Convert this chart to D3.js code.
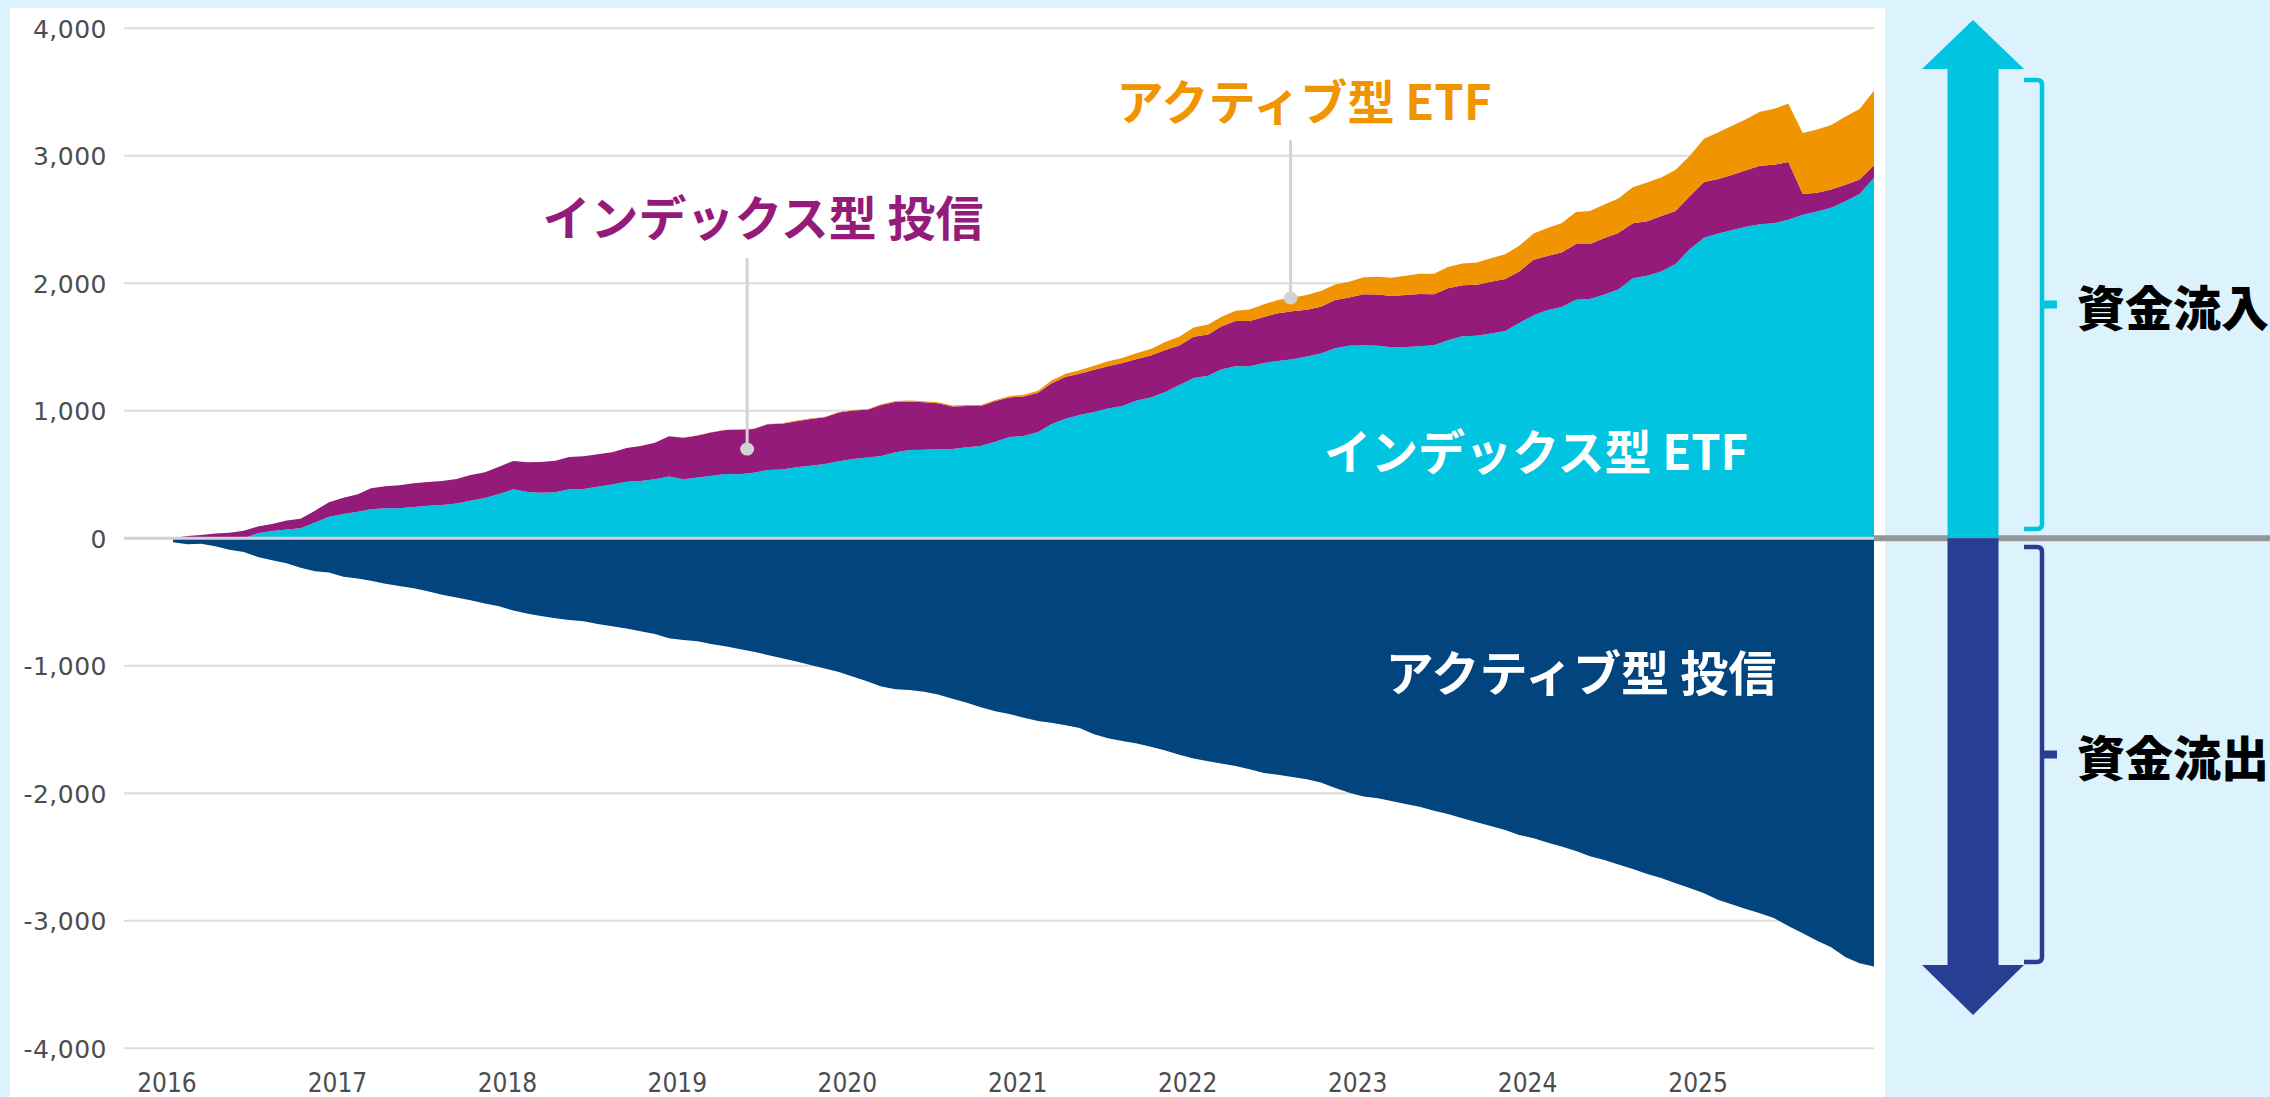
<!DOCTYPE html>
<html>
<head>
<meta charset="utf-8">
<script src="https://cdn.jsdelivr.net/npm/d3@7"></script>
<style>
html, body { margin: 0; padding: 0; background: #dcf3fd; }
#main { width: 2270px; height: 1097px; }
svg { display: block; }
</style>
</head>
<body>
<div id="main"></div>
<script>
// year labels on the x axis and y ticks
const years = [2016, 2017, 2018, 2019, 2020, 2021, 2022, 2023, 2024, 2025];
const yTicks = [-4000, -3000, -2000, -1000, 0, 1000, 2000, 3000, 4000];

// cumulative net flows, monthly Jan 2016 .. Jan 2026
const indexETF = [
  0, 0, 0, 0, 0, 2, 39, 57, 70, 78,
  123, 170, 191, 209, 227, 235, 235, 246, 256, 261,
  272, 295, 316, 348, 384, 363, 358, 361, 384, 387,
  405, 421, 444, 450, 463, 484, 463, 476, 489, 505,
  502, 515, 536, 539, 557, 570, 583, 604, 622, 633,
  646, 675, 693, 695, 698, 701, 714, 724, 758,
  794, 802, 834, 894, 937, 967, 991, 1018, 1037, 1080,
  1105, 1148, 1202, 1258, 1275, 1323, 1350, 1350, 1375, 1391,
  1404, 1426, 1450, 1491, 1510, 1515, 1510, 1499, 1501, 1507,
  1515, 1553, 1585, 1588, 1607, 1626, 1688, 1750, 1790, 1815,
  1871, 1877, 1912, 1952, 2039, 2060, 2093, 2152, 2268, 2358,
  2390, 2417, 2444, 2463, 2471, 2498, 2538, 2563, 2592, 2644,
  2700, 2827
];
const indexFund = [
  3, 18, 26, 37, 44, 58, 53, 55, 69, 76,
  94, 112, 128, 136, 165, 173, 181, 185, 186, 189,
  193, 202, 202, 214, 223, 233, 241, 248, 254, 256,
  254, 254, 264, 274, 287, 316, 325, 330, 340, 344,
  350, 342, 358, 359, 362, 365, 366, 382, 380, 375,
  399, 396, 380, 373, 362, 332, 324, 314, 318,
  311, 311, 308, 321, 330, 324, 330, 332, 338, 327,
  329, 329, 310, 322, 324, 338, 354, 354, 361, 375,
  376, 367, 367, 378, 378, 400, 402, 402, 408, 410,
  400, 408, 400, 400, 405, 408, 405, 435, 427, 426,
  438, 432, 443, 443, 432, 427, 435, 416, 414, 437,
  429, 432, 443, 459, 459, 454, 163, 148, 144, 129,
  114, 98
];
const activeETF = [
  0, 0, 0, 0, 0, 0, 0, 0, 0, 0,
  0, 0, 0, 0, 0, 0, 0, 0, 0, 0,
  0, 0, 0, 0, 0, 0, 0, 0, 0, 0,
  0, 0, 0, 0, 0, 0, 2, 2, 2, 3,
  3, 3, 3, 4, 4, 4, 5, 5, 5, 6,
  6, 6, 7, 7, 7, 8, 8, 8, 9,
  10, 13, 16, 20, 24, 28, 32, 38, 40, 46,
  51, 62, 68, 73, 78, 75, 81, 90, 100, 103,
  108, 116, 122, 121, 124, 132, 140, 143, 151, 157,
  159, 167, 170, 175, 184, 194, 202, 205, 219, 230,
  251, 259, 264, 270, 283, 303, 302, 322, 316, 338,
  365, 384, 400, 424, 440, 456, 478, 495, 505, 535,
  554, 586
];
const activeFund = [
  -30, -47, -42, -63, -89, -107, -146, -173, -196, -230,
  -259, -269, -301, -316, -332, -356, -374, -392, -416, -442,
  -465, -486, -512, -533, -567, -591, -609, -627, -641, -651,
  -672, -690, -708, -729, -750, -784, -797, -808, -829, -847,
  -868, -889, -915, -941, -967, -993, -1022, -1048, -1085, -1124,
  -1163, -1184, -1190, -1203, -1226, -1258, -1289, -1325, -1357,
  -1378, -1407, -1433, -1446, -1467, -1488, -1537, -1569, -1590, -1610,
  -1634, -1665, -1697, -1728, -1749, -1767, -1786, -1812, -1841, -1854,
  -1872, -1890, -1916, -1958, -1995, -2026, -2039, -2060, -2084, -2105,
  -2136, -2162, -2196, -2227, -2256, -2288, -2327, -2353, -2387, -2418,
  -2452, -2494, -2523, -2559, -2593, -2633, -2664, -2706, -2742, -2784,
  -2837, -2871, -2907, -2941, -2980, -3041, -3098, -3156, -3208, -3286,
  -3333, -3359
];

const months = d3.timeMonth.range(new Date(2016, 0, 1), new Date(2026, 1, 1));

function createChart() {
    d3.select("#main svg").remove();

    const W = 2270, H = 1097;
    const plot = { left: 124, right: 1874, top: 28.3, bottom: 1048.3 };
    const dataLeft = 173;

    const svg = d3.select("#main").append("svg")
        .attr("width", W)
        .attr("height", H);

    // background + white panel
    svg.append("rect").attr("width", W).attr("height", H).attr("fill", "#dcf3fd");
    svg.append("rect").attr("x", 10).attr("y", 8).attr("width", 1875).attr("height", H - 8).attr("fill", "#fff");

    const x = d3.scaleTime()
        .domain([months[0], months[months.length - 1]])
        .range([dataLeft, plot.right]);
    const y = d3.scaleLinear().domain([-4000, 4000]).range([plot.bottom, plot.top]);

    // gridlines + y labels
    const fmt = d => d3.format(",")(d).replace("\u2212", "-");
    svg.append("g").selectAll("line")
        .data(yTicks.filter(d => d !== 0))
        .join("line")
        .attr("x1", plot.left).attr("x2", plot.right)
        .attr("y1", d => y(d)).attr("y2", d => y(d))
        .attr("stroke", "#dcdcdc").attr("stroke-width", 2);

    svg.append("g").selectAll("text")
        .data(yTicks)
        .join("text")
        .attr("x", 107)
        .attr("y", d => y(d) + 1)
        .attr("text-anchor", "end")
        .attr("dominant-baseline", "central")
        .attr("font-family", "'DejaVu Sans', sans-serif")
        .attr("font-size", 25)
        .attr("letter-spacing", 0.5)
        .attr("fill", "#4d4d4d")
        .text(fmt);

    // x labels
    svg.append("g").selectAll("text")
        .data(years)
        .join("text")
        .attr("x", d => x(new Date(d, 0, 1)) - 6)
        .attr("y", 1083)
        .attr("text-anchor", "middle")
        .attr("dominant-baseline", "central")
        .attr("font-family", "'DejaVu Sans Condensed', 'DejaVu Sans', sans-serif")
        .attr("font-size", 26)
        .attr("fill", "#4d4d4d")
        .text(d => d);

    // stacked positive flows
    const rows = months.map((m, i) => ({
        date: m,
        indexETF: indexETF[i],
        indexFund: indexFund[i],
        activeETF: activeETF[i]
    }));
    const keys = ["indexETF", "indexFund", "activeETF"];
    const colors = { indexETF: "#00c4e0", indexFund: "#951b7a", activeETF: "#f09400" };
    const stacked = d3.stack().keys(keys)(rows);

    const area = d3.area()
        .x(d => x(d.data.date))
        .y0(d => y(d[0]))
        .y1(d => y(d[1]));

    svg.append("g").selectAll("path")
        .data(stacked)
        .join("path")
        .attr("d", area)
        .attr("fill", d => colors[d.key]);

    // active mutual funds (outflows)
    const negArea = d3.area()
        .x((d, i) => x(months[i]))
        .y0(y(0))
        .y1(d => y(d));
    svg.append("path")
        .datum(activeFund)
        .attr("d", negArea)
        .attr("fill", "#01447e");

    // zero line
    svg.append("line")
        .attr("x1", plot.left).attr("x2", plot.right)
        .attr("y1", y(0)).attr("y2", y(0))
        .attr("stroke", "#d2d2d2").attr("stroke-width", 3);

    // callouts with leader lines
    const callouts = [
        { text: "インデックス型 投信", color: "#951b7a", date: new Date(2019, 4, 18), value: 700, lineTop: 258, tx: 763, ty: 215, len: 441 },
        { text: "アクティブ型 ETF", color: "#f09400", date: new Date(2022, 6, 28), value: 1885, lineTop: 140, tx: 1304, ty: 99, len: 375 }
    ];
    callouts.forEach(c => {
        svg.append("line")
            .attr("x1", x(c.date)).attr("x2", x(c.date))
            .attr("y1", c.lineTop).attr("y2", y(c.value))
            .attr("stroke", "#d3d3d3").attr("stroke-width", 3);
        svg.append("ellipse")
            .attr("cx", x(c.date)).attr("cy", y(c.value))
            .attr("rx", 7).attr("ry", 6.5)
            .attr("fill", "#d3d3d3");
        svg.append("text")
            .attr("x", c.tx).attr("y", c.ty)
            .attr("text-anchor", "middle")
            .attr("dominant-baseline", "central")
            .attr("font-family", "'Noto Sans CJK JP', sans-serif")
            .attr("font-weight", 700)
            .attr("font-size", 48)
            .attr("textLength", c.len)
            .attr("lengthAdjust", "spacingAndGlyphs")
            .attr("fill", c.color)
            .text(c.text);
    });

    // in-area labels
    const inLabels = [
        { text: "インデックス型 ETF", tx: 1536, ty: 449, len: 424 },
        { text: "アクティブ型 投信", tx: 1581, ty: 670, len: 391 }
    ];
    svg.append("g").selectAll("text")
        .data(inLabels)
        .join("text")
        .attr("x", d => d.tx).attr("y", d => d.ty)
        .attr("text-anchor", "middle")
        .attr("dominant-baseline", "central")
        .attr("font-family", "'Noto Sans CJK JP', sans-serif")
        .attr("font-weight", 700)
        .attr("font-size", 48)
        .attr("textLength", d => d.len)
        .attr("lengthAdjust", "spacingAndGlyphs")
        .attr("fill", "#fff")
        .text(d => d.text);

    // right-hand legend: arrows, brackets, labels
    const y0 = y(0);
    const g = svg.append("g");
    g.append("line")
        .attr("x1", plot.right).attr("x2", W)
        .attr("y1", y0).attr("y2", y0)
        .attr("stroke", "#95969a").attr("stroke-width", 6);

    const ax = 1973, shaftW = 51, headW = 102;
    const arrows = [
        { color: "#00c4e0", base: 69, tip: 20 },
        { color: "#283e93", base: 965, tip: 1015 }
    ];
    arrows.forEach(a => {
        const pts = [
            [ax - shaftW / 2, y0], [ax - shaftW / 2, a.base], [ax - headW / 2, a.base],
            [ax, a.tip], [ax + headW / 2, a.base], [ax + shaftW / 2, a.base], [ax + shaftW / 2, y0]
        ];
        g.append("path")
            .attr("d", d3.line()(pts) + "Z")
            .attr("fill", a.color);
    });

    const brackets = [
        { color: "#00c4e0", top: 80, bottom: 529, label: "資金流入" },
        { color: "#283e93", top: 547, bottom: 962, label: "資金流出" }
    ];
    brackets.forEach(b => {
        const bx0 = 2024, bx1 = 2042, r = 5;
        const mid = (b.top + b.bottom) / 2;
        g.append("path")
            .attr("d", `M${bx0},${b.top} H${bx1 - r} Q${bx1},${b.top} ${bx1},${b.top + r} V${b.bottom - r} Q${bx1},${b.bottom} ${bx1 - r},${b.bottom} H${bx0}`)
            .attr("fill", "none")
            .attr("stroke", b.color)
            .attr("stroke-width", 4.5);
        g.append("rect")
            .attr("x", bx1).attr("y", mid - 4)
            .attr("width", 15).attr("height", 8)
            .attr("fill", b.color);
        g.append("text")
            .attr("x", 2077).attr("y", mid)
            .attr("dominant-baseline", "central")
            .attr("font-family", "'Noto Sans CJK JP', sans-serif")
            .attr("font-weight", 900)
            .attr("font-size", 48)
            .attr("fill", "#000")
            .text(b.label);
    });
}

document.addEventListener("DOMContentLoaded", function() {
    createChart();
});
</script>
</body>
</html>
